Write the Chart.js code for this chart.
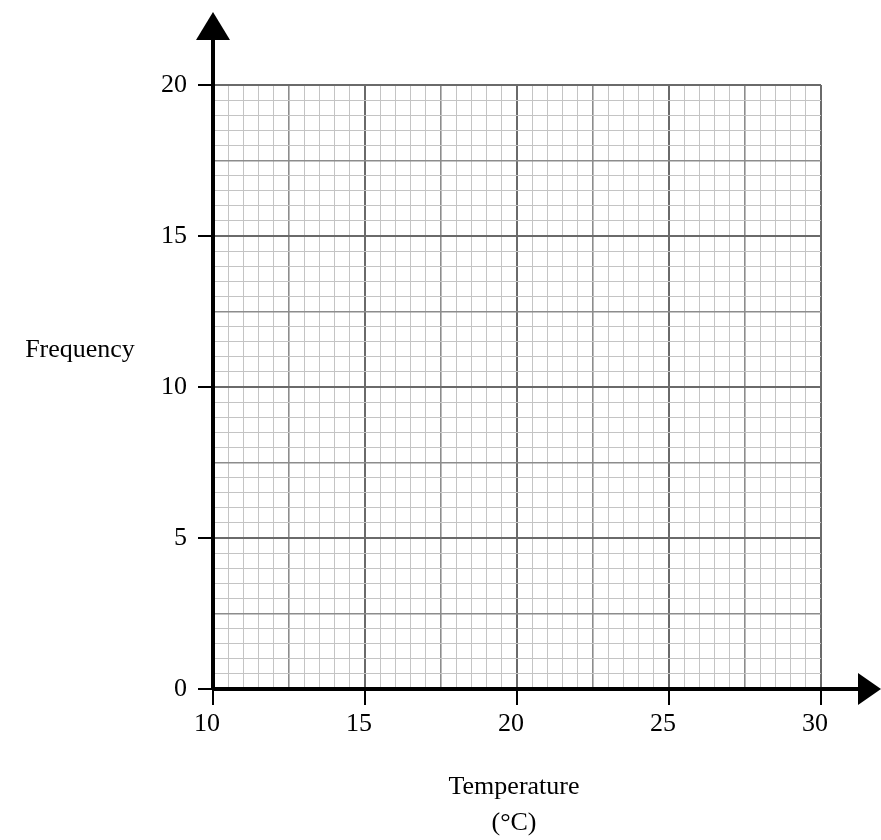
<!DOCTYPE html>
<html><head><meta charset="utf-8">
<script src="https://cdn.jsdelivr.net/npm/chart.js@4"></script>
<style>html,body{margin:0;background:#fff}#c{display:block}</style>
</head><body>
<canvas id="c" width="881" height="840"></canvas>
<script>
const xRange = [10, 30];
const yRange = [0, 20];
const minorStep = 0.5;
const xTickLabels = [10, 15, 20, 25, 30];
const yTickLabels = [0, 5, 10, 15, 20];
const xTitle = ['Temperature', '(°C)'];
const yTitle = 'Frequency';

function gridColor(ctx) {
  const v = ctx.tick.value;
  if (Math.abs(v % 5) < 1e-6) return '#6a6a6a';
  if (Math.abs(v % 2.5) < 1e-6) return '#8c8c8c';
  return '#c4c4c4';
}
function gridWidth(ctx) {
  const v = ctx.tick.value;
  if (Math.abs(v % 5) < 1e-6) return 2;
  if (Math.abs(v % 2.5) < 1e-6) return 1.6;
  return 1;
}

const axesPlugin = {
  id: 'axes',
  afterDraw(chart) {
    const c = chart.ctx, x = chart.scales.x, y = chart.scales.y;
    const x0 = x.getPixelForValue(xRange[0]), y0 = y.getPixelForValue(yRange[0]);
    c.save();
    c.strokeStyle = '#000'; c.fillStyle = '#000';
    c.lineWidth = 4;
    c.beginPath(); c.moveTo(x0, y0); c.lineTo(x0, 38); c.stroke();
    c.beginPath(); c.moveTo(x0, y0); c.lineTo(862, y0); c.stroke();
    c.beginPath(); c.moveTo(x0, 12); c.lineTo(x0 - 17, 40); c.lineTo(x0 + 17, 40); c.closePath(); c.fill();
    c.beginPath(); c.moveTo(881, y0); c.lineTo(858, y0 - 16); c.lineTo(858, y0 + 16); c.closePath(); c.fill();
    c.lineWidth = 2;
    c.font = '26px "Liberation Serif", serif';
    c.textAlign = 'right'; c.textBaseline = 'middle';
    yTickLabels.forEach(v => {
      const p = y.getPixelForValue(v);
      c.beginPath(); c.moveTo(x0 - 15, p); c.lineTo(x0, p); c.stroke();
      c.fillText(String(v), x0 - 26, p);
    });
    c.textAlign = 'center'; c.textBaseline = 'top';
    xTickLabels.forEach(v => {
      const p = x.getPixelForValue(v);
      c.beginPath(); c.moveTo(p, y0); c.lineTo(p, y0 + 16); c.stroke();
      c.fillText(String(v), p - 6, y0 + 22);
    });
    c.textBaseline = 'middle';
    c.fillText(yTitle, 80, 350);
    c.fillText(xTitle[0], 514, 787);
    c.fillText(xTitle[1], 514, 823);
    c.restore();
  }
};

new Chart(document.getElementById('c'), {
  type: 'scatter',
  data: { datasets: [{ data: [] }] },
  options: {
    responsive: false, animation: false,
    layout: { padding: { left: 213, right: 60, top: 85, bottom: 151 } },
    plugins: { legend: { display: false }, tooltip: { enabled: false } },
    scales: {
      x: { type: 'linear', min: xRange[0], max: xRange[1],
        ticks: { display: false, stepSize: minorStep },
        border: { display: false },
        grid: { color: gridColor, lineWidth: gridWidth, drawTicks: false } },
      y: { type: 'linear', min: yRange[0], max: yRange[1],
        ticks: { display: false, stepSize: minorStep },
        border: { display: false },
        grid: { color: gridColor, lineWidth: gridWidth, drawTicks: false } }
    }
  },
  plugins: [axesPlugin]
});
</script>
</body></html>
